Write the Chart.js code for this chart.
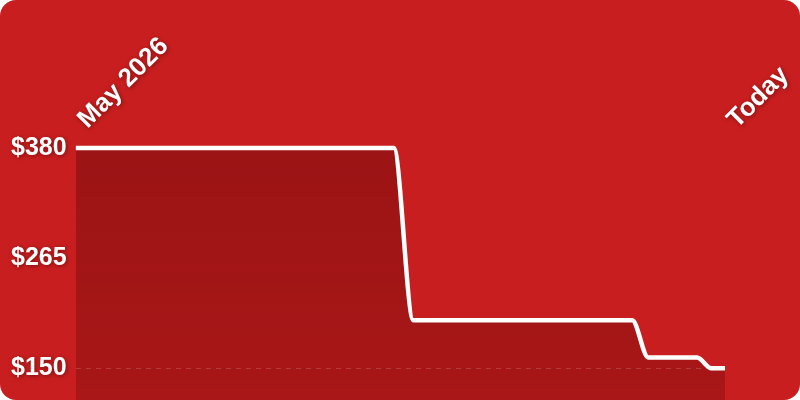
<!DOCTYPE html>
<html>
<head>
<meta charset="utf-8">
<script src="https://cdn.jsdelivr.net/npm/chart.js@4"></script>
<style>
  html, body { margin: 0; padding: 0; background: #ffffff; }
  .card {
    width: 800px; height: 400px;
    background: #c91e1f;
    border-radius: 16px;
    overflow: hidden;
    position: relative;
  }
  canvas { display: block; }
</style>
</head>
<body>
<div class="card"><canvas id="balanceChart" width="800" height="440"></canvas></div>
<script>
// data (x = days since start, 0..100)
const days = [0, 49, 52, 85.7, 88.2, 95.7, 97.9, 100];
const balance = [380, 380, 200, 200, 161, 161, 150, 150];
const xTicks = [0, 100];
const xLabels = ['May 2026', 'Today'];
const yTicks = [150, 265, 380];

const points = days.map((d, i) => ({ x: d, y: balance[i] }));

// text shadow for the tick labels (drawn after the datasets)
const labelShadow = {
  id: 'labelShadow',
  afterDatasetsDraw(chart) {
    const c = chart.ctx;
    c.shadowColor = 'rgba(60,0,0,0.55)';
    c.shadowBlur = 4;
    c.shadowOffsetX = 1;
    c.shadowOffsetY = 1;
  },
  afterDraw(chart) {
    const c = chart.ctx;
    c.shadowColor = 'transparent';
    c.shadowBlur = 0;
    c.shadowOffsetX = 0;
    c.shadowOffsetY = 0;
  }
};

const ctx = document.getElementById('balanceChart');

new Chart(ctx, {
  type: 'line',
  data: {
    datasets: [{
      data: points,
      borderColor: '#ffffff',
      borderWidth: 4.5,
      pointRadius: 0,
      cubicInterpolationMode: 'monotone',
      fill: 'start',
      backgroundColor: (context) => {
        const area = context.chart.chartArea;
        if (!area) return 'rgba(80,0,0,0.25)';
        const g = context.chart.ctx.createLinearGradient(0, area.top, 0, area.bottom);
        g.addColorStop(0, 'rgba(60,0,0,0.32)');
        g.addColorStop(1, 'rgba(60,0,0,0.22)');
        return g;
      }
    }]
  },
  options: {
    responsive: false,
    animation: false,
    layout: { padding: { top: 0, right: 75, bottom: 0, left: 2 } },
    plugins: { legend: { display: false }, tooltip: { enabled: false } },
    scales: {
      x: {
        type: 'linear',
        position: 'top',
        min: 0,
        max: 100,
        afterBuildTicks: (axis) => { axis.ticks = xTicks.map(v => ({ value: v })); },
        afterFit: (axis) => {
          axis.height = 140;
          axis.paddingLeft = 0;
          axis.paddingRight = 0;
        },
        ticks: {
          z: 1,
          color: '#ffffff',
          minRotation: 45,
          maxRotation: 45,
          autoSkip: false,
          padding: -3,
          labelOffset: 29,
          font: { family: 'Liberation Sans', size: 26, weight: 'bold' },
          callback: (v) => xLabels[xTicks.indexOf(v)]
        },
        grid: { display: false },
        border: { display: false }
      },
      y: {
        min: 100,
        max: 388.4,
        afterBuildTicks: (axis) => { axis.ticks = yTicks.map(v => ({ value: v })); },
        ticks: {
          z: 1,
          color: '#ffffff',
          padding: 9,
          font: { family: 'Liberation Sans', size: 25, weight: 'bold' },
          callback: (v) => '$' + v
        },
        grid: {
          z: 1,
          drawTicks: false,
          lineWidth: 1,
          color: (c) => c.tick && c.tick.value === 150 ? 'rgba(255,255,255,0.16)' : 'transparent'
        },
        border: { display: false, dash: [5, 5] }
      }
    }
  },
  plugins: [labelShadow]
});
</script>
</body>
</html>
